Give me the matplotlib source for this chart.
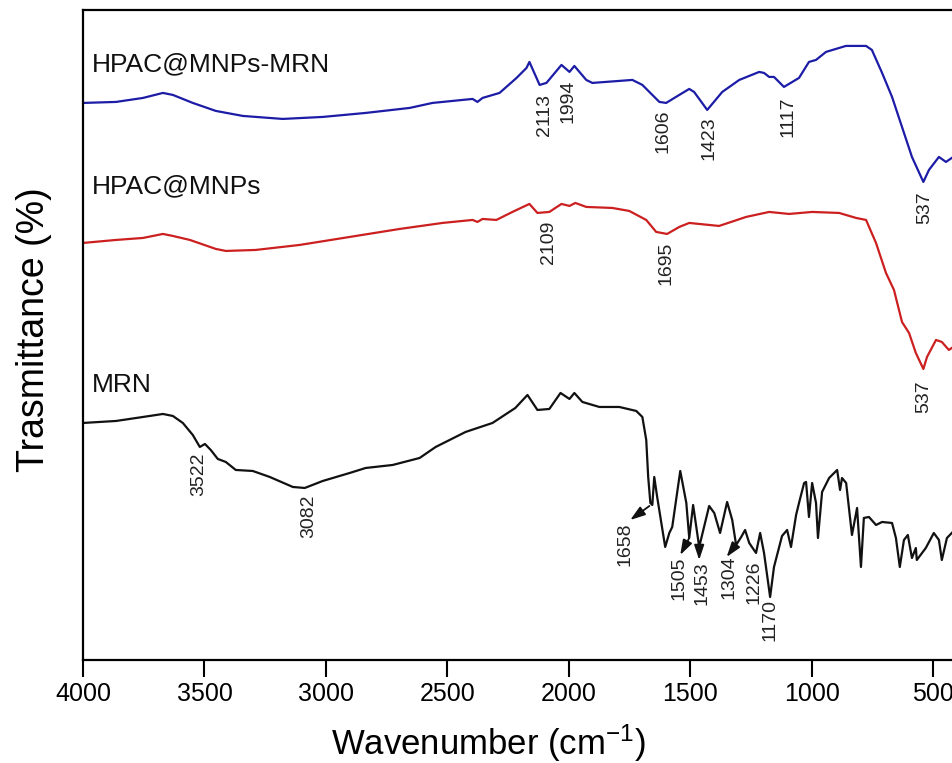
import numpy as np
import matplotlib
matplotlib.use("Agg")
import matplotlib.pyplot as plt

plt.rcParams['font.family'] = ['Liberation Sans', 'DejaVu Sans']
plt.rcParams['mathtext.default'] = 'regular'

# FTIR spectra, values (arbitrary offset transmittance scale)
wn_blue = [4000, 3864, 3753, 3671, 3630, 3548, 3453, 3342, 3178, 3013, 2836, 2655, 2561, 2396,
           2376, 2355, 2285, 2215, 2174, 2162, 2120, 2092, 2030, 1997, 1977, 1928, 1903, 1738,
           1697, 1627, 1599, 1545, 1504, 1484, 1430, 1368, 1298, 1216, 1196, 1175, 1155, 1114,
           1052, 1011, 982, 941, 859, 776, 752, 710, 669, 628, 587, 540, 517, 476, 447, 423]
t_blue = [557, 558, 562, 567, 565, 557, 549, 544, 541, 543, 547, 552, 557, 561,
          558, 562, 567, 582, 592, 598, 575, 577, 595, 588, 594, 580, 577, 580,
          575, 558, 557, 565, 571, 568, 550, 568, 580, 588, 587, 583, 583, 573,
          582, 598, 600, 608, 614, 614, 610, 587, 563, 533, 503, 478, 490, 503, 498, 502]

wn_red = [4000, 3864, 3753, 3671, 3630, 3560, 3453, 3412, 3289, 3108, 2902, 2696, 2520, 2396,
          2376, 2355, 2298, 2232, 2162, 2129, 2080, 2030, 1997, 1973, 1928, 1821, 1751, 1681,
          1640, 1595, 1545, 1504, 1381, 1270, 1175, 1093, 998, 887, 817, 776, 735, 694, 661,
          628, 599, 571, 540, 525, 488, 464, 435, 423]
t_red = [417, 420, 422, 426, 424, 420, 411, 409, 410, 415, 423, 431, 437, 440,
         438, 441, 440, 448, 456, 447, 448, 456, 454, 457, 453, 452, 449, 440,
         428, 426, 433, 437, 434, 443, 448, 446, 448, 447, 442, 440, 417, 387, 370,
         338, 327, 307, 291, 303, 320, 318, 310, 312]

wn_black = [4000, 3864, 3753, 3671, 3630, 3589, 3548, 3519, 3498, 3474, 3445, 3412, 3371, 3301,
            3231, 3136, 3087, 3013, 2902, 2836, 2725, 2614, 2548, 2425, 2314, 2220, 2170, 2129,
            2080, 2034, 1997, 1977, 1944, 1874, 1792, 1722, 1697, 1681, 1673, 1664, 1656, 1648,
            1636, 1603, 1586, 1574, 1541, 1516, 1504, 1488, 1463, 1422, 1401, 1377, 1348, 1327,
            1311, 1290, 1274, 1257, 1229, 1212, 1196, 1171, 1155, 1122, 1101, 1085, 1064, 1052,
            1031, 1023, 1011, 998, 982, 974, 957, 928, 895, 883, 875, 858, 834, 813, 797, 785,
            764, 735, 710, 669, 653, 637, 620, 604, 587, 571, 567, 530, 497, 476, 464, 443, 423]
t_black = [237, 239, 243, 246, 244, 237, 225, 213, 216, 210, 201, 198, 190, 189,
           183, 173, 172, 179, 187, 192, 195, 202, 213, 228, 237, 252, 265, 250,
           251, 267, 261, 267, 258, 253, 253, 249, 243, 220, 183, 157, 155, 183,
           163, 113, 127, 133, 189, 157, 122, 155, 113, 154, 147, 127, 158, 140,
           115, 123, 130, 117, 107, 127, 107, 63, 93, 124, 130, 113, 145, 157,
           177, 178, 143, 177, 157, 122, 168, 182, 190, 170, 182, 177, 125, 152, 93, 142,
           143, 135, 138, 137, 122, 93, 120, 125, 102, 112, 100, 112, 127, 120, 100, 122, 127]

series_names = ['HPAC@MNPs-MRN', 'HPAC@MNPs', 'MRN']
series_colors = ['#1c1ca6', '#cc2020', '#111111']
name_pos = [596, 474, 275]

# peak labels: text, wavenumber, level
peak_text = ['2113', '1994', '1606', '1423', '1117', '537',
             '2109', '1695', '537',
             '3522', '3082', '1658', '1505', '1453', '1304', '1226', '1170']
peak_wn = [2100, 2002, 1611, 1422, 1097, 534,
           2084, 1599, 538,
           3523, 3071, 1767, 1545, 1451, 1340, 1237, 1171]
peak_t = [545, 559, 529, 522, 543, 452,
          418, 397, 263,
          186, 144, 116, 82, 77, 83, 78, 40]

# arrows (from curve to label)
arrow_from = [(1668, 154), (1504, 122), (1463, 117), (1307, 117)]
arrow_to = [(1747, 140), (1541, 105), (1463, 100), (1350, 103)]

fig = plt.figure(figsize=(9.53, 7.63), dpi=100)
ax = fig.add_axes([0.0871, 0.135, 0.9129, 0.852])

for wn, t, c in zip([wn_blue, wn_red, wn_black], [t_blue, t_red, t_black], series_colors):
    ax.plot(wn, t, color=c, lw=1.6)

for name, y in zip(series_names, name_pos):
    ax.text(3963, y, name, fontsize=19, ha='left', va='center', color='#111111')

for s, x, y in zip(peak_text, peak_wn, peak_t):
    ax.text(x, y, s, fontsize=14, rotation=90, ha='center', va='center', color='#222222')

for a, b in zip(arrow_from, arrow_to):
    ax.annotate('', xy=b, xytext=a,
                arrowprops=dict(arrowstyle='-|>,head_length=0.9,head_width=0.3',
                                color='#111111', lw=1.3, shrinkA=0, shrinkB=0))

ax.set_xlim(4000, 418)
ax.set_ylim(0, 650)
ax.set_xticks([4000, 3500, 3000, 2500, 2000, 1500, 1000, 500])
ax.set_yticks([])
ax.tick_params(axis='x', direction='out', length=12, width=1.5, pad=4, labelsize=18)
for sp in ['top', 'left', 'bottom']:
    ax.spines[sp].set_linewidth(1.6)
ax.spines['right'].set_visible(False)

ax.set_xlabel('Wavenumber (cm$^{-1}$)', fontsize=25)
ax.xaxis.set_label_coords(0.466, -0.128)
ax.xaxis.label.set_va('center')
ax.set_ylabel('Trasmittance (%)', fontsize=27)
ax.yaxis.set_label_coords(-0.056, 0.508)
ax.yaxis.label.set_va('center')

fig.savefig('out.png', dpi=100)
